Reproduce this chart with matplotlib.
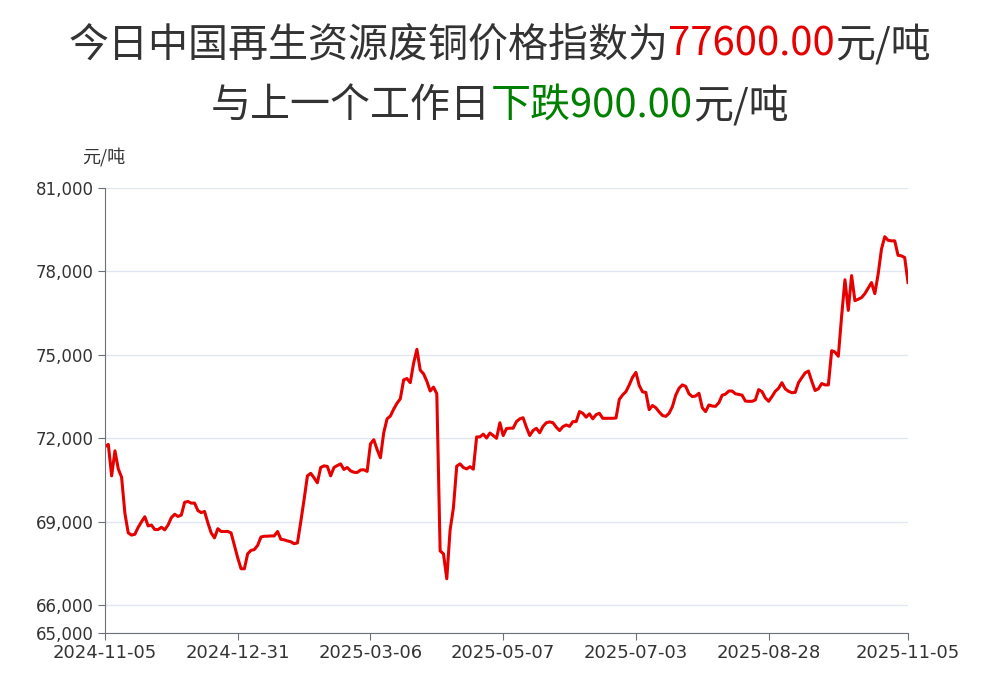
import matplotlib
matplotlib.use('Agg')
from matplotlib import pyplot as plt

# trading-day series, 2024-11-05 .. 2025-11-05 (元/吨)
price = [
    71700, 71780, 70650, 71550, 70900, 70600, 69300, 68600, 68520, 68550,
    68800, 69000, 69180, 68850, 68880, 68720, 68720, 68800, 68710, 68880,
    69150, 69270, 69190, 69240, 69700, 69730, 69670, 69670, 69400, 69330,
    69370, 68960, 68600, 68420, 68750, 68650, 68650, 68650, 68600, 68150,
    67700, 67310, 67310, 67850, 67970, 68000, 68150, 68450, 68480, 68480,
    68490, 68490, 68650, 68370, 68350, 68310, 68280, 68210, 68240, 69000,
    69800, 70650, 70740, 70580, 70400, 70950, 71010, 70990, 70650, 70950,
    71020, 71080, 70880, 70950, 70830, 70780, 70770, 70860, 70870, 70810,
    71800, 71950, 71600, 71300, 72200, 72700, 72800, 73050, 73260, 73420,
    74100, 74150, 74000, 74700, 75200, 74450, 74320, 74050, 73700, 73840,
    73600, 67950, 67850, 66950, 68700, 69500, 71000, 71080, 70950, 70900,
    70980, 70890, 72050, 72050, 72150, 72010, 72190, 72100, 72000, 72560,
    72100, 72350, 72365, 72365, 72600, 72700, 72740, 72400, 72100, 72280,
    72360, 72200, 72430, 72560, 72590, 72560, 72400, 72280, 72420, 72480,
    72430, 72600, 72600, 72960, 72900, 72760, 72880, 72700, 72850, 72900,
    72720, 72720, 72720, 72720, 72730, 73400, 73560, 73680, 73920, 74200,
    74370, 73900, 73670, 73650, 73030, 73180, 73100, 72950, 72820, 72790,
    72900, 73140, 73550, 73800, 73920, 73870, 73600, 73500, 73520, 73620,
    73100, 72960, 73200, 73160, 73150, 73280, 73550, 73590, 73700, 73700,
    73600, 73580, 73550, 73340, 73330, 73330, 73380, 73750, 73680, 73450,
    73330, 73500, 73690, 73800, 74000, 73780, 73690, 73640, 73650, 74000,
    74180, 74350, 74420, 74050, 73720, 73780, 73970, 73920, 73920, 75150,
    75100, 74950, 76400, 77700, 76600, 77850, 76950, 77000, 77060, 77200,
    77400, 77600, 77200, 77900, 78800, 79250, 79120, 79100, 79100, 78580,
    78560, 78500, 77600,
]

tick_pos = [0, 40, 80, 120, 160, 200, 242]
tick_labels = ['2024-11-05', '2024-12-31', '2025-03-06', '2025-05-07',
               '2025-07-03', '2025-08-28', '2025-11-05']
y_ticks = [65000, 66000, 69000, 72000, 75000, 78000, 81000]

title1 = [("今日中国再生资源废铜价格指数为", "#333333"), ("77600.00", "#e60000"), ("元/吨", "#333333")]
title2 = [("与上一个工作日", "#333333"), ("下跌900.00", "#008000"), ("元/吨", "#333333")]

plt.rcParams['font.family'] = ['Noto Sans CJK SC', 'DejaVu Sans']

W, H = 993, 687
fig = plt.figure(figsize=(W / 100, H / 100), dpi=100)
ax = fig.add_axes([105 / W, 1 - 633 / H, 803 / W, 445 / H])

ax.plot(range(len(price)), price, color="#e60000", linewidth=2.2)

ax.set_xlim(0, len(price) - 1)
ax.set_ylim(65000, 81000)
ax.set_yticks(y_ticks)
ax.set_yticklabels([f"{v:,}" for v in y_ticks])
ax.set_xticks(tick_pos)
ax.set_xticklabels(tick_labels)

ax.grid(axis='y', color='#e0e6f1', linewidth=1)
ax.set_axisbelow(True)
for s in ['top', 'right']:
    ax.spines[s].set_visible(False)
for s in ['left', 'bottom']:
    ax.spines[s].set_color('#6e7079')

ax.tick_params(axis='both', colors='#6e7079', labelcolor='#333333',
               labelsize=12, length=5, pad=3)
ax.tick_params(axis='x', labelsize=13)
for lab in ax.get_xticklabels() + ax.get_yticklabels():
    lab.set_family('DejaVu Sans')

fig.text(104 / W, 1 - 157 / H, "元/吨", ha='center', va='center',
         fontsize=13, color='#333333')


def draw_line(parts, yc, size):
    r = fig.canvas.get_renderer()
    texts = []
    widths = []
    for s, c in parts:
        t = fig.text(0, yc, s, color=c, fontsize=size, ha='left', va='center')
        texts.append(t)
        widths.append(t.get_window_extent(renderer=r).width)
    x = (W - sum(widths)) / 2 + 3
    for t, w in zip(texts, widths):
        t.set_x(x / W)
        x += w


draw_line(title1, 1 - 45 / H, 28.8)
draw_line(title2, 1 - 106 / H, 28.8)

plt.savefig("out.png", dpi=100)
